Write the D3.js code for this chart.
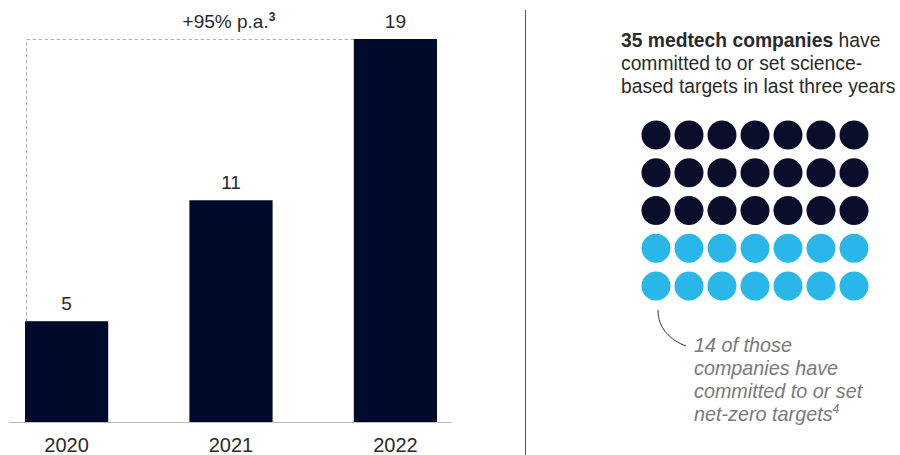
<!DOCTYPE html>
<html>
<head>
<meta charset="utf-8">
<script src="https://cdn.jsdelivr.net/npm/d3@7"></script>
<style>
  body { margin: 0; background: #fff; }
  svg { display: block; font-family: "Liberation Sans", Arial, sans-serif; }
</style>
</head>
<body>
<div id="chart"></div>
<script>
"use strict";

const years = ["2020", "2021", "2022"];
const companies = [5, 11, 19];
const growthLabel = "+95% p.a.";
const totalCompanies = 35;
const netZeroCompanies = 14;
const dotColumns = 7;

const msm = {
    width: 900,
    height: 455,
    baseline: 422,
    top: 39
};

const colors = {
    bar: "#000b2c",
    dark: "#0b0e2b",
    light: "#29b6e8",
    text: "#2a2a2a",
    note: "#7a7a7a"
};

const svg = d3.select("#chart").append("svg")
    .attr("width", msm.width)
    .attr("height", msm.height);

// bar chart: bars 83px wide, 81px gaps
const xScale = d3.scaleBand()
    .domain(years)
    .range([25, 437])
    .paddingInner(81 / 164)
    .paddingOuter(0);

const yScale = d3.scaleLinear()
    .domain([0, 19])
    .range([msm.baseline, msm.top]);

// dashed guide
svg.append("path")
    .attr("d", "M" + (xScale("2020") + 1.5) + "," + yScale(companies[0]) +
        "V" + (yScale(companies[2]) + 0.5) + "H" + xScale("2022"))
    .attr("fill", "none")
    .attr("stroke", "#aaa")
    .attr("stroke-width", 1)
    .attr("stroke-dasharray", "3,3");

svg.append("g")
    .selectAll("rect")
    .data(companies)
    .enter()
    .append("rect")
    .attr("x", (d, i) => xScale(years[i]))
    .attr("y", d => yScale(d))
    .attr("width", xScale.bandwidth())
    .attr("height", d => msm.baseline - yScale(d))
    .attr("fill", colors.bar);

svg.append("line")
    .attr("x1", 9).attr("x2", 452)
    .attr("y1", msm.baseline + 0.5).attr("y2", msm.baseline + 0.5)
    .attr("stroke", "#bbb")
    .attr("stroke-width", 1);

svg.append("g")
    .selectAll("text")
    .data(companies)
    .enter()
    .append("text")
    .attr("x", (d, i) => xScale(years[i]) + xScale.bandwidth() / 2)
    .attr("y", (d, i) => i === 2 ? 28 : yScale(d) - 11)
    .attr("text-anchor", "middle")
    .style("font-size", "19px")
    .attr("fill", colors.text)
    .text(d => d);

svg.append("g")
    .selectAll("text")
    .data(years)
    .enter()
    .append("text")
    .attr("x", d => xScale(d) + xScale.bandwidth() / 2)
    .attr("y", 452)
    .attr("text-anchor", "middle")
    .style("font-size", "20px")
    .attr("fill", colors.text)
    .text(d => d);

const growth = svg.append("text")
    .attr("x", 229)
    .attr("y", 28)
    .attr("text-anchor", "middle")
    .style("font-size", "19px")
    .attr("fill", colors.text);
growth.append("tspan").text(growthLabel);
growth.append("tspan").attr("dy", -7).style("font-size", "12px").style("font-weight", "bold").text("3");

// divider
svg.append("line")
    .attr("x1", 525.5).attr("x2", 525.5)
    .attr("y1", 10).attr("y2", 455)
    .attr("stroke", "#555")
    .attr("stroke-width", 1);

// right panel text
const headSize = "19.3px";
const head = svg.append("text")
    .attr("x", 621)
    .attr("y", 47)
    .style("font-size", headSize)
    .attr("fill", colors.text);
head.append("tspan").style("font-weight", "bold").text("35 medtech companies");
head.append("tspan").text(" have");
svg.append("text").attr("x", 621).attr("y", 70)
    .style("font-size", headSize).attr("fill", colors.text)
    .text("committed to or set science-");
svg.append("text").attr("x", 621).attr("y", 93)
    .style("font-size", headSize).attr("fill", colors.text)
    .text("based targets in last three years");

// dot grid
const dots = d3.range(totalCompanies).map(i => ({
    col: i % dotColumns,
    row: Math.floor(i / dotColumns),
    netZero: i >= totalCompanies - netZeroCompanies
}));
const dotX = d3.scaleLinear().domain([0, dotColumns - 1]).range([656, 854]);
const dotY = d3.scaleLinear().domain([0, 4]).range([135, 286]);

svg.append("g")
    .selectAll("circle")
    .data(dots)
    .enter()
    .append("circle")
    .attr("cx", d => dotX(d.col))
    .attr("cy", d => dotY(d.row))
    .attr("r", 14.5)
    .attr("fill", d => d.netZero ? colors.light : colors.dark);

// annotation
svg.append("path")
    .attr("d", "M658,310 C658,328 670,340 686,346")
    .attr("fill", "none")
    .attr("stroke", "#333")
    .attr("stroke-width", 1);

const noteLines = ["14 of those", "companies have", "committed to or set", "net-zero targets"];
const note = svg.append("g")
    .style("font-size", "19.8px")
    .style("font-style", "italic")
    .attr("fill", colors.note);
noteLines.forEach((t, i) => {
    const tx = note.append("text")
        .attr("x", 694)
        .attr("y", 352 + i * 23)
        .text(t);
    if (i === noteLines.length - 1) {
        tx.append("tspan").attr("dy", -8).style("font-size", "12px").text("4");
    }
});
</script>
</body>
</html>
